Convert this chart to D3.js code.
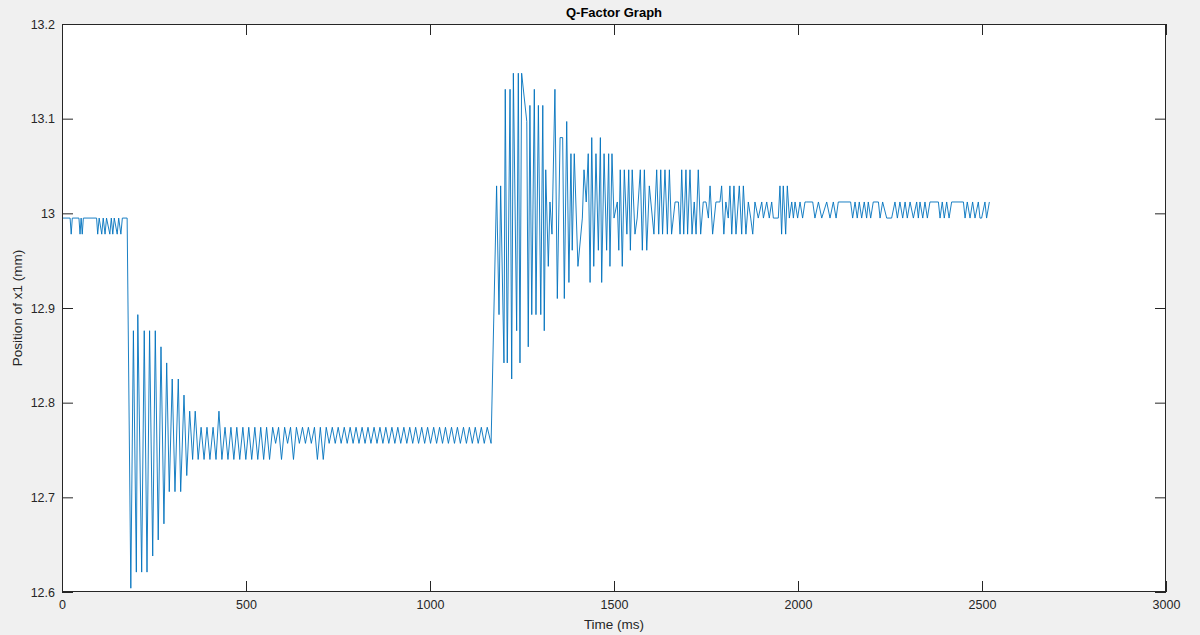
<!DOCTYPE html>
<html>
<head>
<meta charset="utf-8">
<script src="https://cdn.jsdelivr.net/npm/d3@7"></script>
<style>
  body { margin: 0; background: #f0f0f0; }
  svg { display: block; font-family: "Liberation Sans", Arial, Helvetica, sans-serif; }
</style>
</head>
<body>
<svg id="chart" width="1200" height="635"></svg>
<script>
// Axis ticks
const xTicks = [0, 500, 1000, 1500, 2000, 2500, 3000];
const yTicks = [12.6, 12.7, 12.8, 12.9, 13.0, 13.1, 13.2];

// Position of x1 (mm) against time (ms), recorded in phases: [time, position]
const restTrace = [
  [0,12.995],[22,12.995],[25,12.978],[28,12.995],[46,12.995],[49,12.978],[52,12.995],[55,12.978],
  [58,12.995],[94,12.995],[97,12.978],[101,12.995],[108,12.978],[112,12.995],[117,12.978],[121,12.995],
  [130,12.978],[134,12.995],[138,12.978],[142,12.995],[150,12.978],[154,12.995],[160,12.978],[164,12.995],
  [177,12.995]
];

const dropTrace = [
  [187,12.604],[194,12.876],[202,12.621],[206,12.893],[216.5,12.621],[223.5,12.876],[231,12.621],
  [238,12.876],[246.5,12.638],[253.5,12.876],[261.5,12.655],[269,12.859],[277,12.672],[284.5,12.842],
  [291.5,12.706],[299.5,12.825],[307,12.706],[316,12.825],[322.5,12.706],[331.5,12.808],[339,12.723],
  [347,12.791],[355,12.740],[362,12.791],[370,12.740]
];

const lowHoldTrace = [
  [378,12.774],[386,12.740],[394,12.774],[402,12.740],[410.5,12.774],[418.5,12.740],[426.5,12.791],[434.5,12.740],
  [443,12.774],[451,12.740],[459,12.774],[467,12.740],[475,12.774],[483,12.740],[491.5,12.774],[499.5,12.740],
  [507.5,12.774],[515.5,12.740],[524,12.774],[532,12.740],[540,12.774],[548,12.740],[556,12.774],[564,12.740],
  [572.5,12.774],[580.5,12.757],[588.5,12.774],[596.5,12.740],[605,12.774],[613,12.757],[621,12.774],[629,12.740],
  [637,12.774],[645,12.757],[653.5,12.774],[661.5,12.757],[669.5,12.774],[677.5,12.757],[686,12.774],[694,12.740],
  [702,12.774],[710,12.740],[718,12.774],[726,12.757],[734.5,12.774],[742.5,12.757],[750.5,12.774],[758.5,12.757],
  [767,12.774],[775,12.757],[783,12.774],[791,12.757],[799,12.774],[807,12.757],[815.5,12.774],[823.5,12.757],
  [831.5,12.774],[839.5,12.757],[848,12.774],[856,12.757],[864,12.774],[872,12.757],[880,12.774],[888,12.757],
  [896.5,12.774],[904.5,12.757],[912.5,12.774],[920.5,12.757],[929,12.774],[937,12.757],[945,12.774],[953,12.757],
  [961,12.774],[969,12.757],[977.5,12.774],[985.5,12.757],[993.5,12.774],[1001.5,12.757],[1010,12.774],[1018,12.757],
  [1026,12.774],[1034,12.757],[1042,12.774],[1050,12.757],[1058.5,12.774],[1066.5,12.757],[1074.5,12.774],[1082.5,12.757],
  [1091,12.774],[1099,12.757],[1107,12.774],[1115,12.757],[1123,12.774],[1131,12.757],[1139.5,12.774],[1147.5,12.757],
  [1155.5,12.774]
];

const stepTrace = [
  [1166,12.757],[1181,13.029],[1187.5,12.893],[1192,13.029],[1201,12.842],[1204.5,13.131],[1210,12.842],
  [1217.5,13.131],[1222,12.825],[1226.5,13.148],[1235.5,12.876],[1240,13.148],[1244.5,12.842],[1249,13.148],
  [1263,13.097],[1267,12.859],[1271.5,13.114],[1276.5,12.893],[1283.5,13.131],[1288,12.893],[1294.5,13.114],
  [1301,12.893],[1306.5,13.114],[1310.5,12.876],[1314.5,13.046],[1321.5,12.944],[1326,13.012],[1331.5,12.978],
  [1339.5,13.131],[1346,12.910],[1353.5,13.080],[1360.5,13.080]
];

const decayTrace = [
  [1365,12.910],[1371.5,13.097],[1377.5,12.927],[1383,13.063],[1386.5,12.961],[1392,13.063],[1402,12.944],
  [1414,12.995],[1418.5,13.046],[1424.5,13.012],[1430,13.063],[1435,12.927],[1439.5,13.080],[1445,12.944],
  [1451,13.063],[1457.5,12.961],[1463,13.080],[1466.5,12.927],[1473,13.063],[1480,12.961],[1485.5,13.063],
  [1489,12.944],[1494.5,13.063],[1500,12.995],[1509,13.012],[1513,12.961],[1517,13.046],[1522.5,12.944],
  [1528,13.046],[1535,12.978],[1540,13.046],[1544.5,12.961],[1549.5,13.046],[1557,12.978],[1563,12.995],
  [1571.5,13.046],[1577,12.961],[1582.5,13.046],[1589,12.961],[1596,13.029],[1608.5,12.978],[1616,13.046],
  [1621.5,12.978],[1627,13.046],[1632,12.978],[1638.5,13.046],[1645,12.978],[1650.5,13.046],[1656.5,12.978],
  [1666,13.012],[1675,13.012],[1679.5,12.978],[1684,13.046],[1689.5,12.978],[1695.5,13.046],[1700,12.978],
  [1706.5,13.046],[1712,12.978],[1718,13.012],[1723,12.978],[1729,13.046],[1735.5,12.978],[1742.5,13.012],
  [1750,13.012],[1756.5,12.995],[1761,13.029],[1768,12.978],[1777,13.012],[1788,13.012],[1792.5,13.029],
  [1798.5,12.978],[1804,13.012],[1810.5,12.995],[1815,13.029],[1820,12.978],[1826,13.029],[1831.5,12.978],
  [1840.5,13.029],[1847,12.978],[1851.5,13.029],[1858.5,12.978]
];

const settleTrace = [
  [1865,13.012],[1871.5,12.995],[1877,12.978],[1883,13.012],[1892,12.995],[1901.5,13.012],[1906,12.995],
  [1915,13.012],[1922,12.995],[1928.5,13.012],[1933,12.995],[1946.5,12.995],[1951,13.029],[1955.5,12.978],
  [1960,13.029],[1966.5,12.978],[1971,13.029],[1976.5,12.995],[1983,13.012],[1987.5,12.995],[1992,13.012],
  [1999,12.995],[2005.5,13.012],[2012.5,12.995],[2019,13.012],[2023.5,13.012],[2040,13.012],[2046,12.995],
  [2055.5,13.012],[2064.5,12.995],[2078,13.012],[2087,12.995],[2096,13.012],[2103.5,12.995],[2109.5,13.012],
  [2143,13.012],[2148.5,12.995],[2155,13.012],[2161,12.995],[2166.5,13.012],[2173,12.995],[2180,13.012],
  [2186.5,12.995],[2191,13.012],[2197.5,12.995],[2204.5,13.012],[2218.5,13.012],[2223,12.995],[2230,13.012],
  [2241,12.995],[2254.5,12.995],[2263.5,13.012],[2270,12.995],[2277,13.012],[2284.5,12.995],[2291,13.012],
  [2297,12.995],[2304.5,13.012],[2313.5,12.995],[2322.5,13.012],[2327,12.995],[2331.5,13.012],[2339,12.995],
  [2345,13.012],[2351.5,12.995],[2358.5,13.012],[2381.5,13.012],[2386,12.995],[2392,13.012],[2397.5,12.995],
  [2404,13.012],[2410.5,12.995],[2417.5,13.012],[2449.5,13.012],[2454,12.995],[2460,13.012],[2467.5,12.995],
  [2474.5,13.012],[2481,12.995],[2490,13.012],[2494.5,12.995],[2499,12.995],[2508,13.012],[2512.5,12.995],
  [2520,13.012]
];

const trace = [].concat(restTrace, dropTrace, lowHoldTrace, stepTrace, decayTrace, settleTrace);

// Layout
const plot = { left: 62, right: 1166, top: 24, bottom: 592 };
const axisColor = "#262626";
const lineColor = "#0072bd";
const tickLen = 11;

const svg = d3.select("#chart");

const x = d3.scaleLinear().domain([0, 3000]).range([plot.left, plot.right]);
const y = d3.scaleLinear().domain([12.6, 13.2]).range([plot.bottom, plot.top]);

// Axes background
svg.append("rect")
  .attr("x", plot.left).attr("y", plot.top)
  .attr("width", plot.right - plot.left).attr("height", plot.bottom - plot.top)
  .attr("fill", "#ffffff");

const fmt = d => String(+d.toFixed(1));

function styleAxis(g) {
  g.select(".domain").remove();
  g.selectAll(".tick line").attr("stroke", axisColor).attr("stroke-width", 1);
  g.selectAll(".tick text").attr("fill", axisColor).attr("font-size", 12.5);
}

svg.append("g")
  .attr("transform", `translate(0,${plot.bottom})`)
  .call(d3.axisBottom(x).tickValues(xTicks).tickFormat(fmt).tickSizeInner(-tickLen).tickSizeOuter(0).tickPadding(8))
  .call(styleAxis);

svg.append("g")
  .attr("transform", `translate(0,${plot.top})`)
  .call(d3.axisTop(x).tickValues(xTicks).tickFormat("").tickSizeInner(-tickLen).tickSizeOuter(0))
  .call(styleAxis);

svg.append("g")
  .attr("transform", `translate(${plot.left},0)`)
  .call(d3.axisLeft(y).tickValues(yTicks).tickFormat(fmt).tickSizeInner(-tickLen).tickSizeOuter(0).tickPadding(7))
  .call(styleAxis);

svg.append("g")
  .attr("transform", `translate(${plot.right},0)`)
  .call(d3.axisRight(y).tickValues(yTicks).tickFormat("").tickSizeInner(-tickLen).tickSizeOuter(0))
  .call(styleAxis);

// Signal line
const line = d3.line().x(d => x(d[0])).y(d => y(d[1]));
svg.append("path")
  .datum(trace)
  .attr("fill", "none")
  .attr("stroke", lineColor)
  .attr("stroke-width", 0.9)
  .attr("stroke-linejoin", "round")
  .attr("d", line);

// Box
svg.append("rect")
  .attr("x", plot.left + 0.5).attr("y", plot.top + 0.5)
  .attr("width", plot.right - plot.left - 1).attr("height", plot.bottom - plot.top - 1)
  .attr("fill", "none").attr("stroke", axisColor).attr("stroke-width", 1);

// Labels
svg.append("text")
  .attr("x", (plot.left + plot.right) / 2).attr("y", 17)
  .attr("text-anchor", "middle").attr("font-weight", "bold").attr("font-size", 13)
  .attr("fill", "#000").text("Q-Factor Graph");

svg.append("text")
  .attr("x", (plot.left + plot.right) / 2).attr("y", 629)
  .attr("text-anchor", "middle").attr("font-size", 13.5)
  .attr("fill", axisColor).text("Time (ms)");

svg.append("text")
  .attr("transform", `translate(22,${(plot.top + plot.bottom) / 2}) rotate(-90)`)
  .attr("text-anchor", "middle").attr("font-size", 13.5)
  .attr("fill", axisColor).text("Position of x1 (mm)");
</script>
</body>
</html>
